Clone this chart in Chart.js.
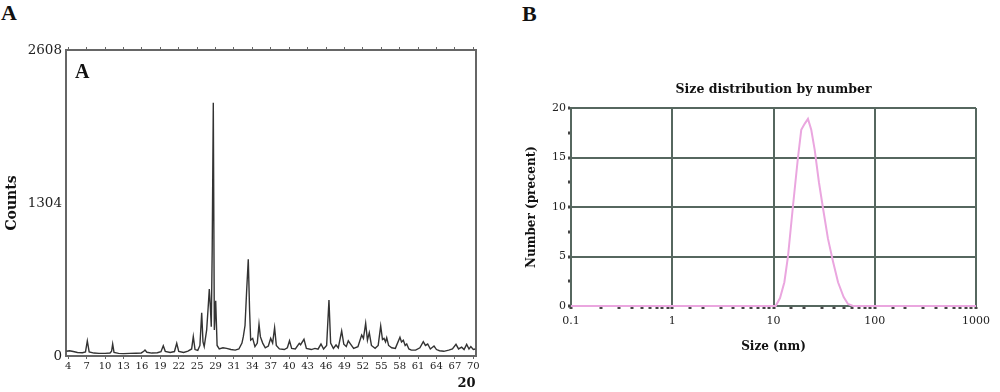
<!DOCTYPE html>
<html>
<head>
<meta charset="utf-8">
<script src="https://cdn.jsdelivr.net/npm/chart.js@4.4.1/dist/chart.umd.min.js"></script>
<style>
  body { margin: 0; background: #fff; width: 1000px; height: 392px; overflow: hidden; position: relative; }
  canvas { position: absolute; top: 0; }
  #xrd { left: 0; }
  #dls { left: 500px; }
  .panel { position: absolute; font-family: "Liberation Serif", serif; font-weight: bold; color: #111; }
</style>
</head>
<body>
<div class="panel" style="left:1px; top:2px; font-size:22px; line-height:22px;">A</div>
<div class="panel" style="left:522px; top:3px; font-size:22px; line-height:22px;">B</div>
<canvas id="xrd" width="490" height="392"></canvas>
<canvas id="dls" width="500" height="392"></canvas>
<div class="panel" style="left:75px; top:61px; font-size:20px; line-height:20px;">A</div>
<script>
// panel A - XRD pattern
const twoTheta = [3.7, 4.2, 4.8, 5.5, 6.3, 6.8, 7.1, 7.4, 8.2, 9.0, 10.0, 10.8, 11.05, 11.23, 11.45, 12.2, 13.0, 14.0, 15.0, 15.9,
  16.3, 16.5, 16.8, 17.6, 18.5, 19.1, 19.48, 19.8, 20.6, 21.3, 21.67, 22.0, 22.8, 23.5, 24.1, 24.37, 24.65, 25.1, 25.45, 25.74,
  25.95, 26.15, 26.55, 26.8, 26.98, 27.15, 27.3, 27.45, 27.63, 27.8, 28.02, 28.25, 28.6, 29.2, 29.8, 30.5, 31.2, 31.8, 32.3, 32.52,
  32.8, 33.07, 33.33, 33.55, 33.72, 34.05, 34.42, 34.8, 35.08, 35.3, 35.68, 36.1, 36.6, 36.98, 37.3, 37.62, 37.9, 38.4, 39.2, 39.7,
  40.05, 40.4, 41.0, 41.64, 41.85, 42.41, 42.8, 43.6, 44.2, 44.7, 45.18, 45.6, 46.1, 46.48, 46.75, 47.2, 47.63, 48.0, 48.55, 48.9,
  49.3, 49.63, 50.0, 50.5, 51.2, 51.81, 52.1, 52.46, 52.75, 53.05, 53.4, 54.0, 54.5, 54.91, 55.2, 55.45, 55.7, 55.89, 56.2, 56.7,
  57.3, 58.05, 58.3, 58.6, 58.9, 59.15, 59.5, 59.9, 60.6, 61.3, 61.85, 62.2, 62.57, 63.0, 63.6, 64.0, 64.5, 65.2, 66.0, 66.6,
  67.18, 67.6, 68.1, 68.5, 68.92, 69.3, 69.6, 70.0, 70.35];
const counts = [40, 45, 38, 30, 28, 35, 128, 35, 25, 22, 22, 25, 40, 102, 30, 22, 20, 22, 24, 26,
  40, 51, 32, 25, 28, 36, 88, 40, 30, 38, 108, 40, 30, 42, 60, 165, 55, 48, 90, 369,
  120, 80, 222, 420, 570, 420, 250, 903, 2158, 221, 471, 90, 60, 70, 65, 55, 50, 60, 110, 165,
  260, 562, 824, 380, 136, 150, 80, 110, 270, 165, 110, 70, 85, 150, 110, 241, 90, 60, 55, 70,
  130, 65, 60, 108, 96, 142, 65, 55, 65, 58, 102, 60, 90, 477, 110, 65, 94, 70, 213, 100,
  80, 130, 102, 65, 80, 179, 150, 279, 135, 199, 90, 65, 90, 256, 140, 150, 120, 156, 90, 70,
  65, 159, 120, 135, 90, 102, 60, 50, 50, 70, 122, 90, 102, 60, 85, 55, 45, 40, 50, 60,
  99, 60, 75, 55, 99, 60, 80, 55, 60];
const xTickValues = [4, 7, 10, 13, 16, 19, 22, 25, 28, 31, 34, 37, 40, 43, 46, 49, 52, 55, 58, 61, 64, 67, 70];
const xTickLabels = ['4', '7', '10', '13', '16', '19', '22', '25', '29', '31', '34', '37', '40', '43', '46', '49', '52', '55', '58', '61', '64', '67', '70'];
const yTickValues = [0, 1304, 2608];

// panel B - size distribution
const sizeNm = [0.1, 10.5, 11.6, 12.8, 13.9, 15.5, 17.4, 18.8, 20.3, 21.9, 23.6, 25.5, 28.1, 30.8, 34.5, 38.7, 43.4, 49.3, 54.4, 61, 1000];
const numberPct = [0, 0, 0.8, 2.4, 5.0, 9.9, 14.9, 17.8, 18.4, 18.9, 17.8, 15.8, 12.5, 9.9, 6.8, 4.5, 2.4, 0.9, 0.2, 0, 0];
const sizeTicks = [0.1, 1, 10, 100, 1000];
const sizeTickLabels = ['0.1', '1', '10', '100', '1000'];

const frameA = '#666';
const serif = 'DejaVu Serif';

new Chart(document.getElementById('xrd'), {
  type: 'line',
  data: {
    datasets: [{
      data: twoTheta.map((t, i) => ({ x: t, y: counts[i] })),
      borderColor: '#333',
      borderWidth: 1.4,
      pointRadius: 0,
      tension: 0
    }]
  },
  options: {
    responsive: false,
    animation: false,
    layout: { padding: { left: 0, right: 14.5, top: 47, bottom: 0 } },
    plugins: { legend: { display: false }, tooltip: { enabled: false } },
    scales: {
      x: {
        type: 'linear', min: 3.625, max: 70.36,
        afterBuildTicks: s => { s.ticks = xTickValues.map(v => ({ value: v })); },
        afterFit: s => { s.height = 36; },
        ticks: {
          autoSkip: false, maxRotation: 0, padding: 1, color: '#222',
          font: { family: serif, size: 10 },
          callback: (v, i) => xTickLabels[i]
        },
        grid: { drawOnChartArea: false, tickLength: 3, tickColor: frameA },
        border: { color: frameA, width: 2 },
        title: {
          display: true, text: '20', align: 'end', color: '#111',
          font: { family: serif, weight: 'bold', size: 13 },
          padding: { top: 0, bottom: 1 }
        }
      },
      xTop: {
        type: 'linear', position: 'top', min: 3.625, max: 70.36,
        afterBuildTicks: s => { s.ticks = xTickValues.map(v => ({ value: v })); },
        afterFit: s => { s.height = 3; },
        ticks: { display: false },
        grid: { drawOnChartArea: false, tickLength: 3, tickColor: frameA },
        border: { color: frameA, width: 2 }
      },
      y: {
        min: 0, max: 2608,
        afterBuildTicks: s => { s.ticks = yTickValues.map(v => ({ value: v })); },
        afterFit: s => { s.width = 66; },
        ticks: { padding: 4, color: '#222', font: { family: serif, size: 13.5 }, callback: v => String(v) },
        grid: { drawOnChartArea: false, drawTicks: false },
        border: { color: frameA, width: 2 },
        title: {
          display: true, text: 'Counts', color: '#111',
          font: { family: serif, weight: 'bold', size: 14 },
          padding: { top: 4, bottom: 0 }
        }
      },
      yRight: {
        position: 'right', min: 0, max: 2608,
        afterFit: s => { s.width = 0; },
        ticks: { display: false },
        grid: { display: false },
        border: { color: frameA, width: 2 }
      }
    }
  }
});

const gridB = '#56675f';
const isSizeTick = v => sizeTicks.findIndex(t => Math.abs(Math.log10(t) - Math.log10(v)) < 1e-6);

new Chart(document.getElementById('dls'), {
  type: 'scatter',
  data: {
    datasets: [{
      data: sizeNm.map((s, i) => ({ x: s, y: numberPct[i] })),
      showLine: true,
      clip: false,
      borderColor: '#eaa6df',
      borderWidth: 2,
      pointRadius: 0,
      tension: 0
    }]
  },
  options: {
    responsive: false,
    animation: false,
    layout: { padding: { left: 0, right: 24, top: 0, bottom: 0 } },
    plugins: {
      legend: { display: false },
      tooltip: { enabled: false },
      title: {
        display: true, text: 'Size distribution by number', fullSize: false, color: '#111',
        font: { family: serif, weight: 'bold', size: 12.5 },
        padding: { top: 82, bottom: 11 }
      }
    },
    scales: {
      x: {
        type: 'logarithmic', min: 0.1, max: 1000,
        afterFit: s => { s.height = 86; },
        ticks: {
          autoSkip: false, maxRotation: 0, padding: 6, color: '#222',
          font: { family: serif, size: 11 },
          callback: v => { const k = isSizeTick(v); return k >= 0 ? sizeTickLabels[k] : ''; }
        },
        grid: {
          color: c => (c.tick && isSizeTick(c.tick.value) >= 0) ? gridB : 'rgba(0,0,0,0)',
          lineWidth: 2, tickColor: '#444', tickLength: 3, tickWidth: 3
        },
        border: { color: gridB, width: 2 },
        title: {
          display: true, text: 'Size (nm)', color: '#111',
          font: { family: serif, weight: 'bold', size: 12 },
          padding: { top: 0, bottom: 38 }
        }
      },
      y: {
        min: 0, max: 20,
        afterFit: s => { s.width = 71; },
        ticks: {
          stepSize: 2.5, padding: 2, color: '#222',
          font: { family: serif, size: 11 },
          callback: v => (v % 5 === 0 ? v : '')
        },
        grid: {
          color: c => (c.tick && c.tick.value % 5 === 0) ? gridB : 'rgba(0,0,0,0)',
          lineWidth: 2, tickColor: '#444', tickLength: 3, tickWidth: 3
        },
        border: { color: gridB, width: 2 },
        title: {
          display: true, text: 'Number (precent)', color: '#111',
          font: { family: serif, weight: 'bold', size: 12 },
          padding: { top: 25, bottom: 0 }
        }
      }
    }
  }
});
</script>
</body>
</html>
